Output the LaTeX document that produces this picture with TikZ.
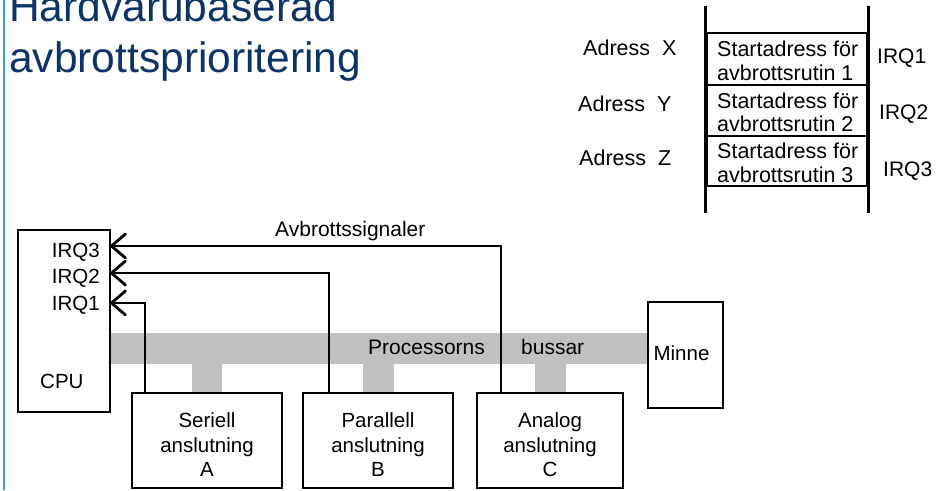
\documentclass[tikz,border=0pt]{standalone}
\usepackage{fontspec}
\setmainfont{Liberation Sans}
\definecolor{titleblue}{RGB}{12,52,102}
\definecolor{railblue}{RGB}{60,160,210}
\definecolor{busgray}{RGB}{192,192,192}

\begin{document}
\begin{tikzpicture}[x=1pt,y=-1pt,
  box/.style={draw=black, line width=2.9pt, fill=white, inner sep=0pt},
  cell/.style={draw=black, line width=2.4pt, inner sep=0pt, minimum width=160pt},
  wire/.style={draw=black, line width=2.4pt},
  rail/.style={draw=black, line width=2.7pt},
  barb/.style={draw=black, line width=2.8pt, line cap=round, line join=miter},
  txt/.style={inner sep=0pt, font=\fontsize{21}{23.5}\selectfont},
  celltxt/.style={inner sep=0pt, align=left, anchor=west, font=\fontsize{21.5}{23.5}\selectfont},
  boxtxt/.style={inner sep=0pt, align=center, font=\fontsize{20.5}{24.35}\selectfont},
  headline/.style={inner sep=0pt, text=titleblue, anchor=base west, font=\fontsize{42.5}{51}\selectfont},
  busbar/.style={fill=busgray}]

% page and left accent rule
\fill[white] (0,0) rectangle (942,490);
\useasboundingbox (0,0) rectangle (942,490);
\draw[railblue, line width=2pt] (3.5,0) -- (3.5,490);

% heading
\node[headline] (title1) at (9,21) {Hardvarubaserad};
\node[headline] (title2) at (9,72) {avbrottsprioritering};

% vector table
\node[cell, minimum height=52pt] (c1) at (787,59) {};
\node[cell, minimum height=51pt] (c2) at (787,110.5) {};
\node[cell, minimum height=50pt] (c3) at (787,161) {};
\draw[rail] (c1.north west) -- ++(0,-26);
\draw[rail] (c1.north east) -- ++(0,-26);
\draw[rail] (c3.south west) -- ++(0,26);
\draw[rail] (c3.south east) -- ++(0,26);
\draw[rail] (c1.north west) -- (c3.south west);
\draw[rail] (c1.north east) -- (c3.south east);
\node[celltxt] (v1) at (717,61) {Startadress för\\avbrottsrutin 1};
\node[celltxt] (v2) at (717,112.5) {Startadress för\\avbrottsrutin 2};
\node[celltxt] (v3) at (717,163) {Startadress för\\avbrottsrutin 3};
\node[txt, anchor=base west, font=\fontsize{21.5}{24}\selectfont] (ax) at (583,55) {Adress\ \ X};
\node[txt, anchor=base west, font=\fontsize{21.5}{24}\selectfont] (ay) at (578,111.5) {Adress\ \ Y};
\node[txt, anchor=base west, font=\fontsize{21.5}{24}\selectfont] (az) at (579,165) {Adress\ \ Z};
\node[txt, anchor=base west] (q1) at (877,63) {IRQ1};
\node[txt, anchor=base west] (q2) at (879,119) {IRQ2};
\node[txt, anchor=base west] (q3) at (883,176.5) {IRQ3};

% processor bus with taps
\fill[busbar] (110,333) rectangle (648,364);
\fill[busbar] (192,364) rectangle (222,393);
\fill[busbar] (363,364) rectangle (394,393);
\fill[busbar] (535,364) rectangle (566,393);
\node[txt, anchor=base west] (busA) at (368,354) {Processorns};
\node[txt, anchor=base west] (busB) at (521,354) {bussar};

% units
\node[box, minimum width=92pt, minimum height=182pt] (cpu) at (64,321) {};
\node[box, minimum width=150pt, minimum height=95pt] (ser) at (207,440.5) {};
\node[box, minimum width=150pt, minimum height=95pt] (par) at (378,440.5) {};
\node[box, minimum width=146pt, minimum height=95pt] (ana) at (550,440.5) {};
\node[box, minimum width=75pt, minimum height=106pt] (mem) at (685.5,355) {};

\node[boxtxt] (serT) at (207,444.8) {Seriell\\anslutning\\A};
\node[boxtxt] (parT) at (378,444.8) {Parallell\\anslutning\\B};
\node[boxtxt] (anaT) at (550,444.8) {Analog\\anslutning\\C};
\node[boxtxt] (memT) at (681.5,353) {Minne};

\node[boxtxt, anchor=base east] (cq3) at (100,257) {IRQ3};
\node[boxtxt, anchor=base east] (cq2) at (100,283) {IRQ2};
\node[boxtxt, anchor=base east] (cq1) at (100,310) {IRQ1};
\node[boxtxt, anchor=base west] (cpuT) at (40,388) {CPU};

% interrupt request lines, each ending in an open barb at the CPU pin
\coordinate (pin1) at (cpu.east |- 0,303);
\coordinate (pin2) at (cpu.east |- 0,273);
\coordinate (pin3) at (cpu.east |- 0,246);
\coordinate (tapA) at (ser.north -| 145,0);
\coordinate (tapB) at (par.north -| 329,0);
\coordinate (tapC) at (ana.north -| 501,0);
\draw[wire] (tapA) |- (pin1);
\draw[wire] (tapB) |- (pin2);
\draw[wire] (tapC) |- (pin3);
\draw[barb] (pin1) ++(14,-12) -- (pin1) -- ++(14,12);
\draw[barb] (pin2) ++(14,-12) -- (pin2) -- ++(14,12);
\draw[barb] (pin3) ++(14,-12) -- (pin3) -- ++(14,12);
\node[txt, anchor=base west] (sig) at (275,236) {Avbrottssignaler};

\end{tikzpicture}
\end{document}
